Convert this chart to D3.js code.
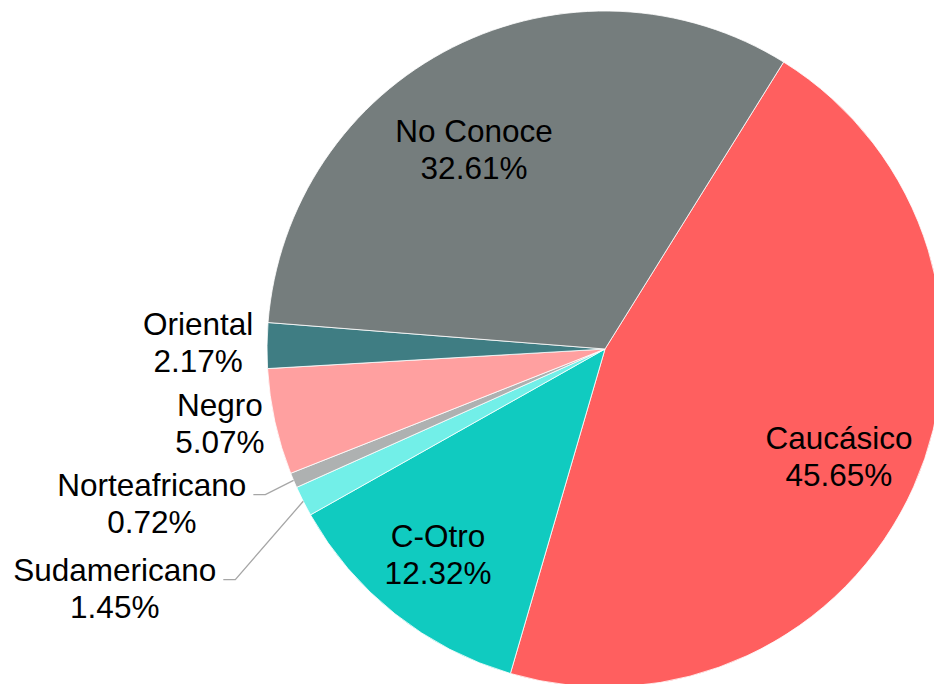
<!DOCTYPE html>
<html>
<head>
<meta charset="utf-8">
<script src="https://cdn.jsdelivr.net/npm/d3@7"></script>
<style>
  html, body { margin: 0; padding: 0; background: #fff; overflow: hidden; }
  text { font-family: "Liberation Sans", Arial, sans-serif; fill: #000; }
</style>
</head>
<body>
<script>
// datos del gráfico, en el orden en que aparecen (sentido horario)
var CATEGORIAS = ["Caucásico", "C-Otro", "Sudamericano", "Norteafricano", "Negro", "Oriental", "No Conoce"];
var PORCENTAJES = [45.65, 12.32, 1.45, 0.72, 5.07, 2.17, 32.61];
var ETIQUETAS = ["45.65%", "12.32%", "1.45%", "0.72%", "5.07%", "2.17%", "32.61%"];
var COLORES = ["#ff5f5f", "#10cbc0", "#72efe8", "#aeb1b1", "#ffa0a0", "#3f7d83", "#757d7d"];

var width = 934, height = 684;
var cx = 605, cy = 349, R = 338;
var START = 31.9 * Math.PI / 180;

// ubicación de cada etiqueta: fracción del radio y corrimiento angular (grados)
var LAYOUT = {
  "Caucásico":     { r: 0.776, da: 2.8, guia: false },
  "C-Otro":        { r: 0.809, da: -0.8, guia: false },
  "Sudamericano":  { r: 1.629, da: -0.3, guia: true },
  "Norteafricano": { r: 1.4275, da: 2.8, guia: true },
  "Negro":         { r: 1.167, da: 0, guia: false },
  "Oriental":      { r: 1.204, da: -1.2, guia: false },
  "No Conoce":     { r: 0.679, da: -8, guia: false }
};
var FONT = 31.5, LINEA = 37;

var svg = d3.select("body").append("svg").attr("width", width).attr("height", height);
var g = svg.append("g").attr("transform", "translate(" + cx + "," + cy + ")");

var datos = CATEGORIAS.map(function (c, i) {
  return { nombre: c, valor: PORCENTAJES[i], etiqueta: ETIQUETAS[i], color: COLORES[i] };
});

var pie = d3.pie().sort(null).value(function (d) { return d.valor; })
  .startAngle(START).endAngle(START + 2 * Math.PI);
var arc = d3.arc().innerRadius(0).outerRadius(R);
var arcos = pie(datos);

g.selectAll("path.slice").data(arcos).enter().append("path")
  .attr("class", "slice")
  .attr("d", arc)
  .attr("fill", function (d) { return d.data.color; })
  .attr("stroke", "#fff")
  .attr("stroke-width", 0.8);

// etiquetas
arcos.forEach(function (d) {
  var lay = LAYOUT[d.data.nombre];
  var medio = (d.startAngle + d.endAngle) / 2;
  var p = d3.pointRadial(medio + lay.da * Math.PI / 180, lay.r * R);

  var t = g.append("text")
    .attr("text-anchor", "middle")
    .style("font-size", FONT + "px");
  var l1 = t.append("tspan").attr("x", p[0]).attr("y", p[1] - LINEA / 2).text(d.data.nombre);
  t.append("tspan").attr("x", p[0]).attr("y", p[1] + LINEA / 2).text(d.data.etiqueta);

  if (lay.guia) {
    var ancho = l1.node().getComputedTextLength();
    var derecha = p[0] + ancho / 2;
    var yl = p[1] - LINEA / 2 - 1.5;
    var inicio = d3.pointRadial(medio, R);
    g.append("polyline")
      .attr("points", [inicio, [derecha + 19, yl], [derecha + 7, yl]].map(function (q) { return q.join(","); }).join(" "))
      .attr("fill", "none")
      .attr("stroke", "#a6a6a6")
      .attr("stroke-width", 1.3);
  }
});
</script>
</body>
</html>
